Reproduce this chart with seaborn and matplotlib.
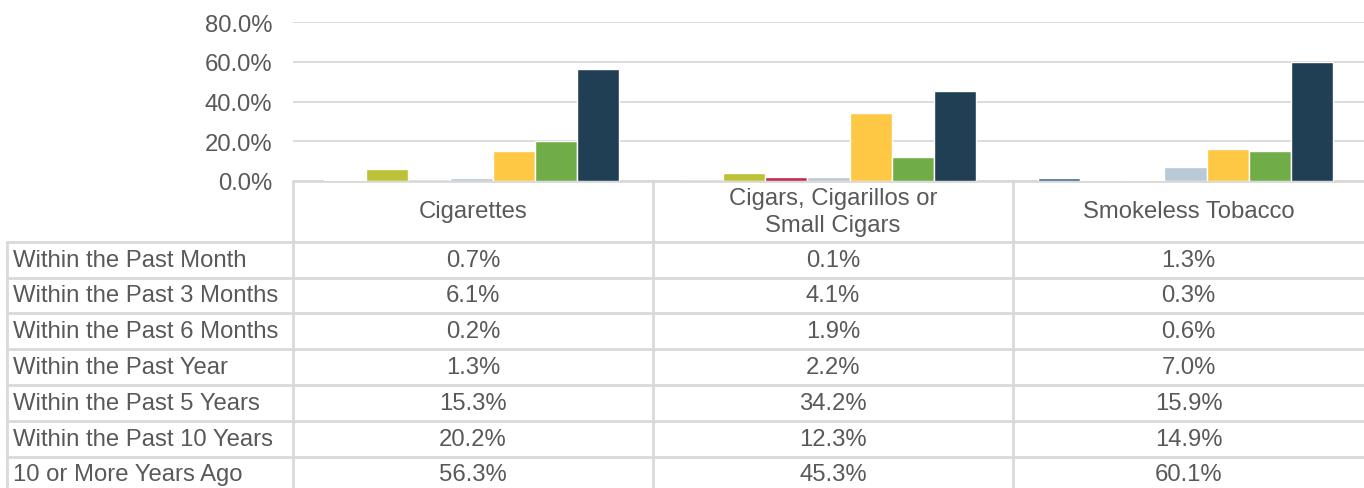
import pandas as pd
import matplotlib.pyplot as plt
import seaborn as sns
from matplotlib.ticker import PercentFormatter

# Datos
productos = ['Cigarettes', 'Cigars, Cigarillos or\nSmall Cigars', 'Smokeless Tobacco']
periodos = ['Within the Past Month', 'Within the Past 3 Months', 'Within the Past 6 Months',
            'Within the Past Year', 'Within the Past 5 Years', 'Within the Past 10 Years',
            '10 or More Years Ago']
cigarettes = [0.7, 6.1, 0.2, 1.3, 15.3, 20.2, 56.3]
cigars = [0.1, 4.1, 1.9, 2.2, 34.2, 12.3, 45.3]
smokeless = [1.3, 0.3, 0.6, 7.0, 15.9, 14.9, 60.1]
colores = ['#3F6D8C', '#BDC135', '#C0284F', '#B9C9D5', '#FEC844', '#70AD47', '#213F54']

filas = []
for prod, vals in zip(productos, [cigarettes, cigars, smokeless]):
    for per, v in zip(periodos, vals):
        filas.append({'producto': prod, 'periodo': per, 'valor': v})
df = pd.DataFrame(filas)

sns.set_style('white')
plt.rcParams['font.family'] = ['Liberation Sans', 'DejaVu Sans']
gris_txt = '#595959'
gris_lin = '#D9D9D9'
fs = 17.2

W, H = 1364, 489
fig = plt.figure(figsize=(W / 100, H / 100), dpi=100)

# Fondo para la tabla (coordenadas en pixeles)
tab = fig.add_axes([0, 0, 1, 1])
tab.set_xlim(0, W)
tab.set_ylim(H, 0)
tab.axis('off')

y_top, y_base = 23, 182
ax = fig.add_axes([293 / W, 1 - y_base / H, (W - 293) / W, (y_base - y_top) / H])
sns.barplot(data=df, x='producto', y='valor', hue='periodo', palette=colores,
            width=0.825, gap=0, ax=ax, legend=False, saturation=1, errorbar=None)
ax.set_ylim(0, 80)
ax.set_xlim(-0.5, 2.5)
ax.set_yticks([0, 20, 40, 60, 80])
ax.yaxis.set_major_formatter(PercentFormatter(decimals=1))
ax.tick_params(axis='y', length=0, pad=15, labelsize=fs, labelcolor=gris_txt)
ax.set_xticks([])
ax.set_xlabel('')
ax.set_ylabel('')
ax.grid(axis='y', color=gris_lin, lw=1.3)
ax.set_axisbelow(True)
sns.despine(ax=ax, left=True, bottom=True, right=True, top=True)
ax.patch.set_alpha(0)

# Tabla de datos
cols_x = [293, 653, 1013, W]
row_h = 35.8
y_head = 242.7
lw = 2
tab.plot([293, W], [y_base, y_base], color=gris_lin, lw=lw)
for i in range(len(periodos)):
    y = y_head + i * row_h
    tab.plot([7, W], [y, y], color=gris_lin, lw=lw)
for x in cols_x[:-1]:
    tab.plot([x, x], [y_base, H], color=gris_lin, lw=lw)
tab.plot([7, 7], [y_head, H], color=gris_lin, lw=lw)

for j, prod in enumerate(productos):
    xc = (cols_x[j] + cols_x[j + 1]) / 2
    tab.text(xc, (y_base + y_head) / 2, prod, ha='center', va='center',
             fontsize=fs, color=gris_txt, linespacing=1.3)

valores = [cigarettes, cigars, smokeless]
for i, per in enumerate(periodos):
    yc = y_head + (i + 0.5) * row_h
    tab.text(13, yc, per, ha='left', va='center', fontsize=fs, color=gris_txt)
    for j in range(3):
        xc = (cols_x[j] + cols_x[j + 1]) / 2
        tab.text(xc, yc, f'{valores[j][i]:.1f}%', ha='center', va='center',
                 fontsize=fs, color=gris_txt)

plt.savefig('out.png', dpi=100)
plt.close()
